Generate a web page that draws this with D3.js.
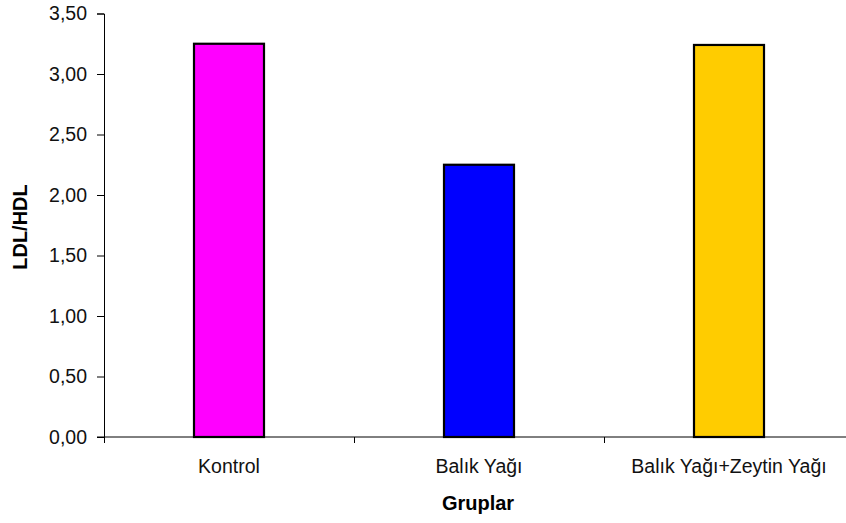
<!DOCTYPE html>
<html>
<head>
<meta charset="utf-8">
<script src="https://cdn.jsdelivr.net/npm/d3@7"></script>
<style>
  body { margin: 0; background: #fff; }
  svg { display: block; font-family: "Liberation Sans", Arial, sans-serif; }
</style>
</head>
<body>
<svg id="chart" width="846" height="523"></svg>
<script>
// Data
var groups = ["Kontrol", "Balık Yağı", "Balık Yağı+Zeytin Yağı"];
var values = [3.25, 2.25, 3.24];
var colors = ["#FF00FF", "#0000FF", "#FFCC00"];
var yTicks = [0, 0.5, 1, 1.5, 2, 2.5, 3, 3.5];

var svg = d3.select("#chart");
var margin = { top: 13.5, left: 104 },
    width = 750,
    height = 423.5;

var g = svg.append("g")
    .attr("transform", `translate(${margin.left},${margin.top})`);

var x = d3.scaleBand()
    .domain(groups)
    .range([0, width]);

var y = d3.scaleLinear()
    .domain([0, 3.5])
    .range([height, 0]);

var fmt = d => d.toFixed(2).replace(".", ",");

// y axis
var yAxis = g.append("g")
    .call(d3.axisLeft(y).tickValues(yTicks).tickFormat(fmt).tickSize(7).tickPadding(10));
yAxis.select(".domain").attr("stroke", "#000");
yAxis.selectAll("text")
    .attr("font-size", 19.5)
    .attr("fill", "#111")
    .attr("font-family", "Liberation Sans, Arial, sans-serif");

// bars
var barW = 70;
g.append("g")
    .selectAll("rect")
    .data(groups)
    .join("rect")
        .attr("x", d => x(d) + x.bandwidth() / 2 - barW / 2)
        .attr("y", (d, i) => y(values[i]))
        .attr("width", barW)
        .attr("height", (d, i) => height - y(values[i]))
        .attr("fill", (d, i) => colors[i])
        .attr("stroke", "#000")
        .attr("stroke-width", 2.2);

// x axis line and category separators
g.append("line")
    .attr("x1", -7).attr("x2", width)
    .attr("y1", height).attr("y2", height)
    .attr("stroke", "#000");

g.append("g")
    .selectAll("line")
    .data(groups)
    .join("line")
        .attr("x1", d => x(d) + 0.5)
        .attr("x2", d => x(d) + 0.5)
        .attr("y1", height)
        .attr("y2", height + 6)
        .attr("stroke", "#000");

// category labels
g.append("g")
    .selectAll("text")
    .data(groups)
    .join("text")
        .attr("x", d => x(d) + x.bandwidth() / 2)
        .attr("y", 473 - margin.top)
        .attr("text-anchor", "middle")
        .attr("font-size", 19.5)
        .attr("fill", "#111")
        .text(d => d);

// axis titles
svg.append("text")
    .attr("x", 478)
    .attr("y", 510)
    .attr("text-anchor", "middle")
    .attr("font-size", 20)
    .attr("font-weight", "bold")
    .text("Gruplar");

svg.append("text")
    .attr("transform", "rotate(-90)")
    .attr("x", -227)
    .attr("y", 27)
    .attr("text-anchor", "middle")
    .attr("font-size", 20)
    .attr("font-weight", "bold")
    .text("LDL/HDL");
</script>
</body>
</html>
